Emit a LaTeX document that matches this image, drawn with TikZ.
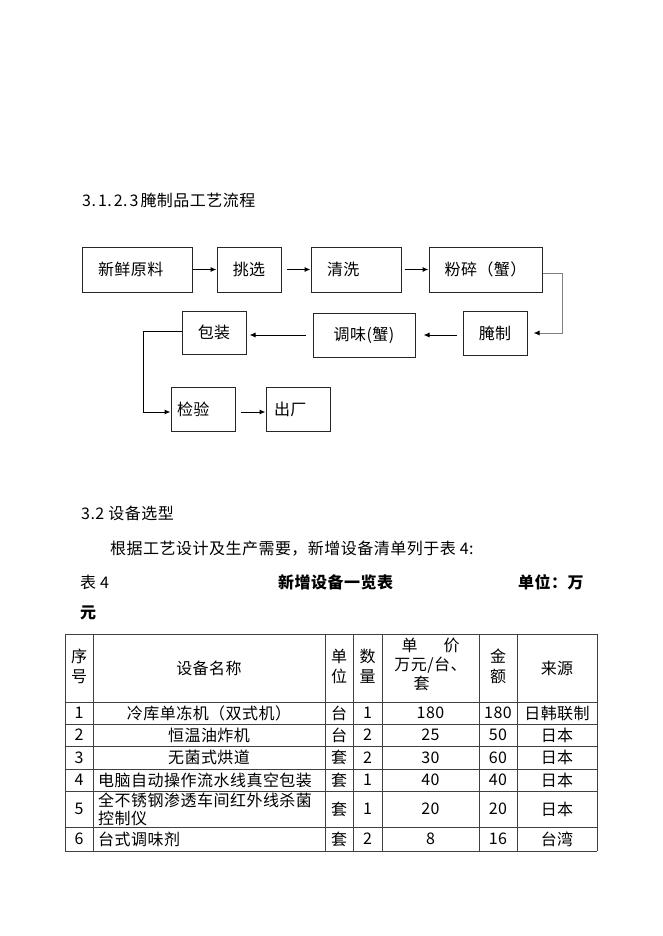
\documentclass[tikz,border=0pt]{standalone}
\usepackage{fontspec}
\setmainfont{Noto Sans CJK SC}[LetterSpace=3]
\usetikzlibrary{arrows.meta}
\tikzset{%
	process/.style={
		draw=black!85,
		line width=1pt,
		minimum height=44,
		inner sep=0pt
	},
	flow/.style={
		-{Latex[length=6pt,width=5pt]},
		line width=1pt
	},
	plain/.style={
		anchor=west,
		inner sep=0pt
	},
	cell/.style={
		inner sep=0pt,
		align=center
	},
	tabline/.style={
		draw=black!75,
		line width=1pt
	},
}

\begin{document}
\begin{tikzpicture}[x=1pt, y=-1pt, font=\fontsize{16}{20}\selectfont]
			\fill[white] (0,0) rectangle (662,936);
			\useasboundingbox (0,0) rectangle (662,936);
			
			% Heading of the flow chart
			\node[plain] (flowtitle) at (82,200) {3.\hspace{2pt}1.\hspace{2pt}2.\hspace{2pt}3\hspace{2pt}腌制品工艺流程};
			
			% Flow chart, first row
			\node[process, minimum height=45, text width=78, align=left, inner xsep=16] (yuanliao) at (137,269.5) {新鲜原料};
			\node[process, minimum height=45, minimum width=64] (tiaoxuan) at (249,269.5) {挑选};
			\node[process, minimum height=45, text width=58, align=left, inner xsep=16] (qingxi) at (356,269.5) {清洗};
			\node[process, minimum height=45, minimum width=113] (fensui) at (485.5,269.5) {粉碎（蟹）};
			\draw[flow] (yuanliao) -- (tiaoxuan);
			\draw[flow, shorten <=5pt] (tiaoxuan) -- (qingxi);
			\draw[flow, shorten <=3pt] (qingxi) -- (fensui);
			
			% Flow chart, second row (right to left)
			\node[process, minimum width=64] (yanzhi) at (495,333) {腌制};
			\node[process, minimum width=102] (tiaowei) at (364,335) {调味(蟹)};
			\node[process, minimum height=43, minimum width=64] (baozhuang) at (214,332.5) {包装};
			\draw[flow, draw=gray, -{Latex[length=6pt,width=5pt,color=black]}] ([yshift=-3.5pt]fensui.east) -- ++(20,0) |- ([xshift=6pt]yanzhi.east);
			\draw[flow, shorten <=6pt, shorten >=8pt] (yanzhi.west |- tiaowei.east) -- (tiaowei.east);
			\draw[flow, shorten <=7pt, shorten >=3pt] (tiaowei.west) -- (baozhuang.east |- tiaowei.west);
			
			% Flow chart, third row
			\node[process, text width=52, align=left, inner xsep=6] (jianyan) at (203,409) {检验};
			\node[process, text width=48, align=left, inner xsep=8] (chuchang) at (298,409) {出厂};
			\draw[flow] ([yshift=1.5pt]baozhuang.west) -- ++(-38,0) |- ([yshift=-3pt]jianyan.west);
			\draw[flow, shorten <=5pt] ([yshift=-3pt]jianyan.east) -- ([yshift=-3pt]chuchang.west);
			
			
			
			% Section 3.2 text
			\node[plain] (sec) at (81,513) {3.2 设备选型};
			\node[plain] (intro) at (110,549) {根据工艺设计及生产需要，新增设备清单列于表 4:};
			\node[plain] (tabno) at (80,582) {表 4};
			\node[plain] (tabtitle) at (278,582) {\bfseries 新增设备一览表};
			\node[plain] (tabunit) at (518,582) {\bfseries 单位：万};
			\node[plain] (tabunit2) at (80,613) {\bfseries 元};
			
			
			
			% Table grid
			\draw[tabline] (65,634) -- (597,634);
			\draw[tabline] (65,702) -- (597,702);
			\draw[tabline] (65,724) -- (597,724);
			\draw[tabline] (65,746) -- (597,746);
			\draw[tabline] (65,769) -- (597,769);
			\draw[tabline] (65,791) -- (597,791);
			\draw[tabline] (65,827) -- (597,827);
			\draw[tabline] (65,851) -- (597,851);
			\draw[tabline] (65,634) -- (65,851);
			\draw[tabline] (93,634) -- (93,851);
			\draw[tabline] (325,634) -- (325,851);
			\draw[tabline] (353,634) -- (353,851);
			\draw[tabline] (382,634) -- (382,851);
			\draw[tabline] (479,634) -- (479,851);
			\draw[tabline] (517,634) -- (517,851);
			\draw[tabline] (597,634) -- (597,851);
			
			% Table header
			\node[cell] (hno) at (79,666) {序\\号};
			\node[cell] (hname) at (209,668) {设备名称};
			\node[cell] (hunit) at (339,666) {单\\位};
			\node[cell] (hqty) at (367.5,666) {数\\量};
			\node[cell, font=\fontsize{16}{19}\selectfont] (hprice) at (430.5,664) {单\hspace{26pt}价\\万元/台、\\\hspace*{-18pt}套};
			\node[cell] (hamt) at (498,666) {金\\额};
			\node[cell] (hsrc) at (557,668) {来源};
			
			% Row 1
			\node[cell] (no1) at (79,713) {1};
			\node[cell] (name1) at (209,713) {冷库单冻机（双式机）};
			\node[cell] (unit1) at (339,713) {台};
			\node[cell] (qty1) at (367.5,713) {1};
			\node[cell] (price1) at (430.5,713) {180};
			\node[cell] (amt1) at (498,713) {180};
			\node[cell] (src1) at (557,713) {日韩联制};
			
			% Row 2
			\node[cell] (no2) at (79,735) {2};
			\node[cell] (name2) at (209,735) {恒温油炸机};
			\node[cell] (unit2) at (339,735) {台};
			\node[cell] (qty2) at (367.5,735) {2};
			\node[cell] (price2) at (430.5,735) {25};
			\node[cell] (amt2) at (498,735) {50};
			\node[cell] (src2) at (557,735) {日本};
			
			% Row 3
			\node[cell] (no3) at (79,757.5) {3};
			\node[cell] (name3) at (209,757.5) {无菌式烘道};
			\node[cell] (unit3) at (339,757.5) {套};
			\node[cell] (qty3) at (367.5,757.5) {2};
			\node[cell] (price3) at (430.5,757.5) {30};
			\node[cell] (amt3) at (498,757.5) {60};
			\node[cell] (src3) at (557,757.5) {日本};
			
			% Row 4
			\node[cell] (no4) at (79,780) {4};
			\node[plain] (name4) at (98,780) {电脑自动操作流水线真空包装};
			\node[cell] (unit4) at (339,780) {套};
			\node[cell] (qty4) at (367.5,780) {1};
			\node[cell] (price4) at (430.5,780) {40};
			\node[cell] (amt4) at (498,780) {40};
			\node[cell] (src4) at (557,780) {日本};
			
			% Row 5
			\node[cell] (no5) at (79,809) {5};
			\node[plain, align=left, font=\fontsize{16}{18}\selectfont] (name5) at (98,809) {全不锈钢渗透车间红外线杀菌\\控制仪};
			\node[cell] (unit5) at (339,809) {套};
			\node[cell] (qty5) at (367.5,809) {1};
			\node[cell] (price5) at (430.5,809) {20};
			\node[cell] (amt5) at (498,809) {20};
			\node[cell] (src5) at (557,809) {日本};
			
			% Row 6
			\node[cell] (no6) at (79,839) {6};
			\node[plain] (name6) at (98,839) {台式调味剂};
			\node[cell] (unit6) at (339,839) {套};
			\node[cell] (qty6) at (367.5,839) {2};
			\node[cell] (price6) at (430.5,839) {8};
			\node[cell] (amt6) at (498,839) {16};
			\node[cell] (src6) at (557,839) {台湾};
			
\end{tikzpicture}
\end{document}
